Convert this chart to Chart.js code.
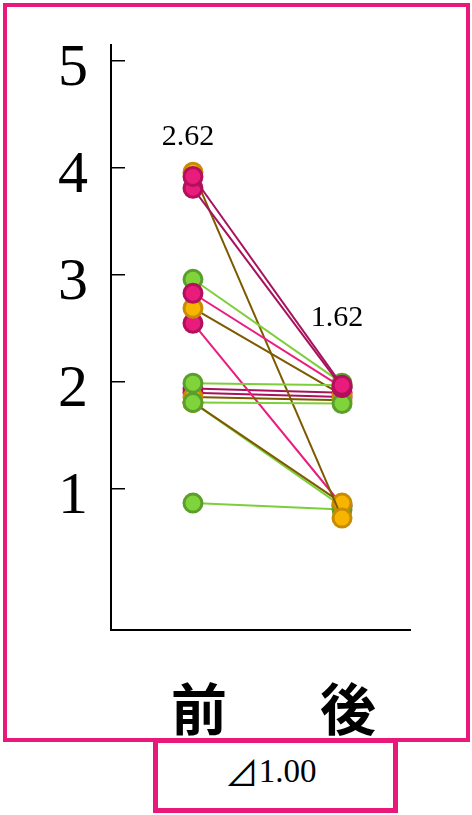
<!DOCTYPE html>
<html>
<head>
<meta charset="utf-8">
<script src="https://cdn.jsdelivr.net/npm/chart.js@4"></script>
<style>
  html, body { margin: 0; padding: 0; background: #fff; }
  #wrap { position: relative; width: 472px; height: 815px; }
  #c { position: absolute; left: 0; top: 0; }
  #frame {
    position: absolute; left: 3px; top: 3px; width: 467px; height: 739px;
    box-sizing: border-box; border: 4px solid #e8197b;
  }
  #delta {
    position: absolute; left: 153px; top: 738px; width: 245px; height: 75px;
    box-sizing: border-box; border: 5px solid #e8197b; background: #fff;
    display: flex; align-items: center; justify-content: center;
    font-family: "Liberation Serif", "DejaVu Serif", serif; font-size: 33px; color: #000;
    padding-bottom: 8px; padding-right: 10px;
  }
  #delta .tri { font-family: "Noto Sans CJK JP", "DejaVu Sans", sans-serif; font-size: 34px; }
</style>
</head>
<body>
<div id="wrap">
  <canvas id="c" width="472" height="740"></canvas>
  <div id="frame"></div>
  <div id="delta"><span class="tri">⊿</span>1.00</div>
</div>
<script>
/*********************************************************
 DATA  (each pair = [前, 後] for one person)
*********************************************************/
const categories = ["前", "後"];
const yTicks = [1, 2, 3, 4, 5];
const meanLabels = ["2.62", "1.62"];
const meanAt = [4.29, 2.60];

const orangeBefore  = [3.96, 2.69, 1.86, 1.81];
const orangeAfter   = [0.73, 1.88, 1.83, 0.87];

const magentaBefore = [3.92, 3.81, 1.94, 1.90];
const magentaAfter  = [1.97, 1.95, 1.90, 1.86];

const pinkBefore    = [2.83, 2.55];
const pinkAfter     = [1.95, 0.85];

const greenBefore   = [2.96, 1.99, 1.81, 1.81, 0.87];
const greenAfter    = [1.99, 1.97, 1.80, 0.84, 0.81];

/*********************************************************
 DATASETS
*********************************************************/
// drawing layer of each pair (lower = drawn on top)
const orangeLayer  = [8, 10, 11, 9];
const magentaLayer = [1, 2, 14, 15];
const pinkLayer    = [3, 13];
const greenLayer   = [4, 5, 6, 12, 12];

function pairSets(before, after, layer, line, fill, edge) {
  return before.map((b, i) => ({
    data: [{ x: 0, y: b }, { x: 1, y: after[i] }],
    order: layer[i],
    borderColor: line,
    borderWidth: 2,
    pointRadius: 9,
    pointBorderWidth: 3,
    pointBackgroundColor: fill,
    pointBorderColor: edge,
    tension: 0
  }));
}

const datasets = [
  ...pairSets(greenBefore, greenAfter, greenLayer, "#7ccf3a", "#7fd33b", "#5c9e2c"),
  ...pairSets(magentaBefore, magentaAfter, magentaLayer, "#a8125c", "#e91c7c", "#b30f5c"),
  ...pairSets(pinkBefore, pinkAfter, pinkLayer, "#ea1d7e", "#e91c7c", "#b30f5c"),
  ...pairSets(orangeBefore, orangeAfter, orangeLayer, "#7d5a00", "#f7b500", "#c98c00")
];

/*********************************************************
 MEAN LABELS
*********************************************************/
const meanPlugin = {
  id: "means",
  afterDatasetsDraw(chart) {
    const { ctx, scales: { x, y } } = chart;
    ctx.save();
    ctx.font = '30px "Liberation Serif"';
    ctx.fillStyle = "#000";
    ctx.textAlign = "center";
    ctx.textBaseline = "middle";
    meanLabels.forEach((t, i) => {
      ctx.fillText(t, x.getPixelForValue(i) - 5, y.getPixelForValue(meanAt[i]));
    });
    ctx.restore();
  }
};

/*********************************************************
 CHART
*********************************************************/
function noPad(s) {
  s.paddingTop = 0; s.paddingBottom = 0;
  s.paddingLeft = 0; s.paddingRight = 0;
}

new Chart(document.getElementById("c").getContext("2d"), {
  type: "line",
  data: { datasets },
  plugins: [meanPlugin],
  options: {
    responsive: false,
    animation: false,
    layout: { padding: { top: 45, right: 62, left: 0, bottom: 0 } },
    plugins: { legend: { display: false }, tooltip: { enabled: false } },
    scales: {
      x: {
        type: "linear",
        min: -0.55,
        max: 1.456,
        afterBuildTicks: s => { s.ticks = categories.map((c, i) => ({ value: i })); },
        afterFit: s => { s.height = 110; noPad(s); },
        grid: { drawOnChartArea: false, drawTicks: false },
        border: { color: "#000", width: 2 },
        ticks: {
          padding: 45,
          labelOffset: 6,
          color: "#000",
          font: { family: "Noto Sans CJK JP", size: 56, weight: "bold" },
          callback: v => categories[v]
        }
      },
      y: {
        type: "linear",
        min: -0.315,
        max: 5.148,
        afterBuildTicks: s => { s.ticks = yTicks.map(v => ({ value: v })); },
        afterFit: s => { s.width = 111; noPad(s); },
        grid: { drawOnChartArea: false, tickLength: -14, color: "#000", lineWidth: 1.5 },
        border: { color: "#000", width: 2 },
        ticks: {
          padding: 37,
          labelOffset: 8,
          color: "#000",
          font: { family: "Liberation Serif", size: 60 }
        }
      }
    }
  }
});
</script>
</body>
</html>
